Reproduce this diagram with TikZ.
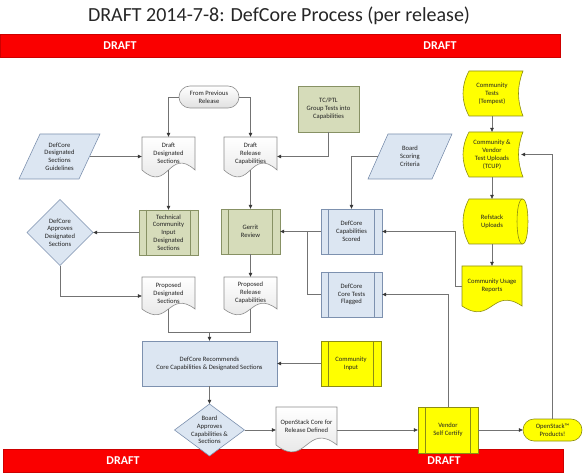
\documentclass[tikz,border=0pt]{standalone}
\usepackage{fontspec}
\setmainfont{Carlito}
\usetikzlibrary{arrows.meta,calc}
\definecolor{bluef}{RGB}{220,230,242}
\definecolor{blued}{RGB}{125,145,175}
\definecolor{greenf}{RGB}{214,220,186}
\definecolor{greend}{RGB}{135,145,100}
\definecolor{yelf}{RGB}{255,255,0}
\definecolor{yeld}{RGB}{140,140,20}
\definecolor{docd}{RGB}{140,140,140}
\definecolor{linec}{RGB}{115,115,115}
\definecolor{arrc}{RGB}{55,55,55}
\definecolor{txtc}{RGB}{35,35,35}
\definecolor{bannerred}{RGB}{250,0,0}
\definecolor{bannerdark}{RGB}{205,0,0}
\newcommand\nf{\fontsize{6.6}{7.8}\selectfont}
\tikzset{
 lbl/.style={font=\nf, text=txtc, align=center, inner sep=0pt, draw=none},
 bluesh/.style={fill=bluef, draw=blued, line width=0.6pt},
 greensh/.style={fill=greenf, draw=greend, line width=0.6pt},
 yelsh/.style={fill=yelf, draw=yeld, line width=0.6pt},
 docsh/.style={top color=white, bottom color=black!12, draw=docd, line width=0.6pt},
 conn/.style={draw=linec, line width=0.6pt},
 arr/.style={conn, -{Triangle[length=4pt,width=3.6pt,color=arrc]}},
 banner/.style={fill=bannerred, draw=bannerdark, line width=0.5pt, minimum width=560, minimum height=23, inner sep=0pt, anchor=north west},
 draftlbl/.style={text=white, font=\fontsize{12}{12}\selectfont\bfseries, inner sep=0pt},
}
% name x0 y0 x1 y1 style text
\newcommand\predef[7]{%
 \path[#6] (#2,#3) rectangle (#4,#5);
 \path[#6,fill=none] ({#2+7.5},#3) -- ({#2+7.5},#5) ({#4-7.5},#3) -- ({#4-7.5},#5);
 \node[lbl, minimum width={#4-#2}, minimum height={#5-#3}] (#1) at ({(#2+#4)/2},{(#3+#5)/2}) {#7};}
\newcommand\rectnode[7]{%
 \path[#6] (#2,#3) rectangle (#4,#5);
 \node[lbl, minimum width={#4-#2}, minimum height={#5-#3}] (#1) at ({(#2+#4)/2},{(#3+#5)/2}) {#7};}
% name x0 y0 x1 r c style text
\newcommand\docu[8]{%
 \path[#7] (#2,#3) -- (#4,#3) -- (#4,{#3+#5}) .. controls ({(#2+#4)/2},{#3+#5-#6}) and ({(#2+#4)/2},{#3+#5+#6}) .. (#2,{#3+#5}) -- cycle;
 \node[lbl, minimum width={#4-#2}, minimum height={#5}] (#1) at ({(#2+#4)/2},{#3+#5/2}) {#8};}
% name x0 y0 x1 y1 style text
\newcommand\stored[7]{%
 \path[#6] ({#2+6},#3) -- (#4,#3) .. controls ({#4-6},{#3+(#5-#3)/3}) and ({#4-6},{#5-(#5-#3)/3}) .. (#4,#5) -- ({#2+6},#5) .. controls ({#2-2},{#5-(#5-#3)/3}) and ({#2-2},{#3+(#5-#3)/3}) .. ({#2+6},#3) -- cycle;
 \node[lbl, minimum width={#4-#2-2}, minimum height={#5-#3}] (#1) at ({(#2+#4)/2-1},{(#3+#5)/2}) {#7};}
% name x0 y0 xc y1 style text
\newcommand\cyl[7]{%
 \path[#6] ({#2+6},#3) -- (#4,#3) .. controls ({#4+7.3},#3) and ({#4+7.3},#5) .. (#4,#5) -- ({#2+6},#5) .. controls ({#2-2},{#5-(#5-#3)/3}) and ({#2-2},{#3+(#5-#3)/3}) .. ({#2+6},#3) -- cycle;
 \path[#6,fill=none] (#4,#3) .. controls ({#4-7.3},#3) and ({#4-7.3},#5) .. (#4,#5);
 \node[lbl, minimum width={#4-#2-1.5}, minimum height={#5-#3}] (#1) at ({(#2+#4)/2-0.75},{(#3+#5)/2}) {#7};}
% name x0 y0 x1 y1 slant style text
\newcommand\para[8]{%
 \path[#7] ({#2+#6},#3) -- (#4,#3) -- ({#4-#6},#5) -- (#2,#5) -- cycle;
 \node[lbl, minimum width={#4-#2-#6}, minimum height={#5-#3}] (#1) at ({(#2+#4)/2},{(#3+#5)/2}) {#8};}
% name cx cy hw hh style text
\newcommand\diam[7]{%
 \path[#6] ({#2-#4},#3) -- (#2,{#3-#5}) -- ({#2+#4},#3) -- (#2,{#3+#5}) -- cycle;
 \node[lbl, minimum width={2*#4}, minimum height={2*#5}] (#1) at (#2,#3) {#7};}
% name x0 y0 x1 y1 style text
\newcommand\pill[7]{%
 \path[#6, rounded corners=11pt] (#2,#3) rectangle (#4,#5);
 \node[lbl, minimum width={#4-#2}, minimum height={#5-#3}] (#1) at ({(#2+#4)/2},{(#3+#5)/2}) {#7};}
\begin{document}
\begin{tikzpicture}[x=1pt,y=-1pt]
\useasboundingbox (0,0) rectangle (584,473);
\node[font=\fontsize{20}{22}\selectfont, text=black!85, inner sep=0pt, anchor=base] (title) at (279,21.5) {DRAFT 2014-7-8: DefCore Process (per release)};
\node[banner] (topbar) at (0,34) {};
\node[draftlbl] (td1) at (120,45.5) {DRAFT};
\node[draftlbl] (td2) at (440,45.5) {DRAFT};
\node[banner] (botbar) at (3,449) {};
\node[draftlbl] (bd1) at (123,460.5) {DRAFT};
\node[draftlbl] (bd2) at (444,460.5) {DRAFT};

\pill{prev}{179}{86}{239}{108}{docsh}{From Previous\\Release}
\docu{dds}{142}{137}{195}{33}{24}{docsh}{Draft\\Designated\\Sections}
\docu{drc}{224}{137}{277}{33}{24}{docsh}{Draft\\Release\\Capabilities}
\para{guide}{19}{134}{100}{179}{21}{bluesh}{DefCore\\Designated\\Sections\\Guidelines}
\rectnode{tc}{298}{86}{359}{132}{greensh}{TC/PTL\\Group Tests into\\Capabilities}
\predef{tech}{139}{210}{198}{255}{greensh}{Technical\\Community\\Input\\Designated\\Sections}
\predef{gerrit}{221}{209}{280}{254}{greensh}{Gerrit\\Review}
\diam{appr}{60}{232.5}{33}{33}{bluesh}{DefCore\\Approves\\Designated\\Sections}
\docu{pds}{142}{277}{195}{32}{20}{docsh}{Proposed\\Designated\\Sections}
\docu{prc}{224}{277}{277}{32}{20}{docsh}{Proposed\\Release\\Capabilities}
\rectnode{rec}{142}{341}{277}{386}{bluesh}{DefCore Recommends\\Core Capabilities \& Designated Sections}
\predef{cin}{321}{341}{381}{386}{yelsh}{Community\\Input}
\diam{board}{209.5}{430}{35}{26}{bluesh}{Board\\Approves\\Capabilities \&\\Sections}
\docu{osc}{276}{407}{337}{38}{24}{docsh}{OpenStack Core for\\Release Defined}
\predef{vendor}{418}{407}{478}{453}{yelsh}{Vendor\\Self Certify}
\pill{prod}{523}{419}{582}{441}{yelsh}{OpenStack™\\Products!}
\stored{tempest}{463}{71}{523}{116}{yelsh}{Community\\Tests\\(Tempest)}
\stored{tcup}{463}{132}{523}{177}{yelsh}{Community \&\\Vendor\\Test Uploads\\(TCUP)}
\para{bsc}{368}{134}{452}{179}{20}{bluesh}{Board\\Scoring\\Criteria}
\cyl{refstack}{463}{199}{522.5}{244}{yelsh}{Refstack\\Uploads}
\docu{cur}{462}{266}{522}{40}{20}{yelsh}{Community Usage\\Reports}
\predef{cscored}{321}{209}{382}{254}{bluesh}{DefCore\\Capabilities\\Scored}
\predef{flagged}{321}{272}{382}{317}{bluesh}{DefCore\\Core Tests\\Flagged}

\draw[arr] (prev.west) -| (dds.north);
\draw[arr] (prev.east) -| (drc.north);
\draw[arr] (guide.east) -- (guide.east -| dds.west);
\draw[arr] (tc.south) |- (guide.east -| drc.east);
\draw[arr] (dds.south) -- (tech.north);
\draw[arr] (drc.south) -- (gerrit.north);
\draw[arr] (tech.west) -- (appr.east);
\draw[arr] (appr.south) |- ([yshift=-3pt]pds.west);
\draw[arr] (gerrit.south) -- (prc.north);
\draw[arr] (cscored.west) -- (gerrit.east);
\coordinate (j1) at (307,231.5);
\draw[conn] (flagged.west) -| (j1);
\draw[arr] (bsc.west) -| (cscored.north);
\coordinate (mj) at (209.5,332);
\draw[conn] (pds.south) |- (mj);
\draw[conn] (prc.south) |- (mj);
\draw[arr] (mj) -- (rec.north);
\draw[arr] (cin.west) -- (rec.east);
\draw[arr] (rec.south) -- (board.north);
\draw[arr] (board.east) -- (board.east -| osc.west);
\draw[arr] (board.east -| osc.east) -- (vendor.west);
\draw[arr] (vendor.east) -- (prod.west);
\draw[arr] (vendor.north) |- (flagged.east);
\draw[arr] (prod.north) |- (tcup.east);
\draw[arr] (tempest.south) -- (tcup.north);
\draw[arr] (tcup.south) -- (refstack.north);
\draw[arr] (refstack.south) -- (cur.north);
\draw[arr] (cur.west) -- ++(-7,0) |- (cscored.east);
\end{tikzpicture}
\end{document}
